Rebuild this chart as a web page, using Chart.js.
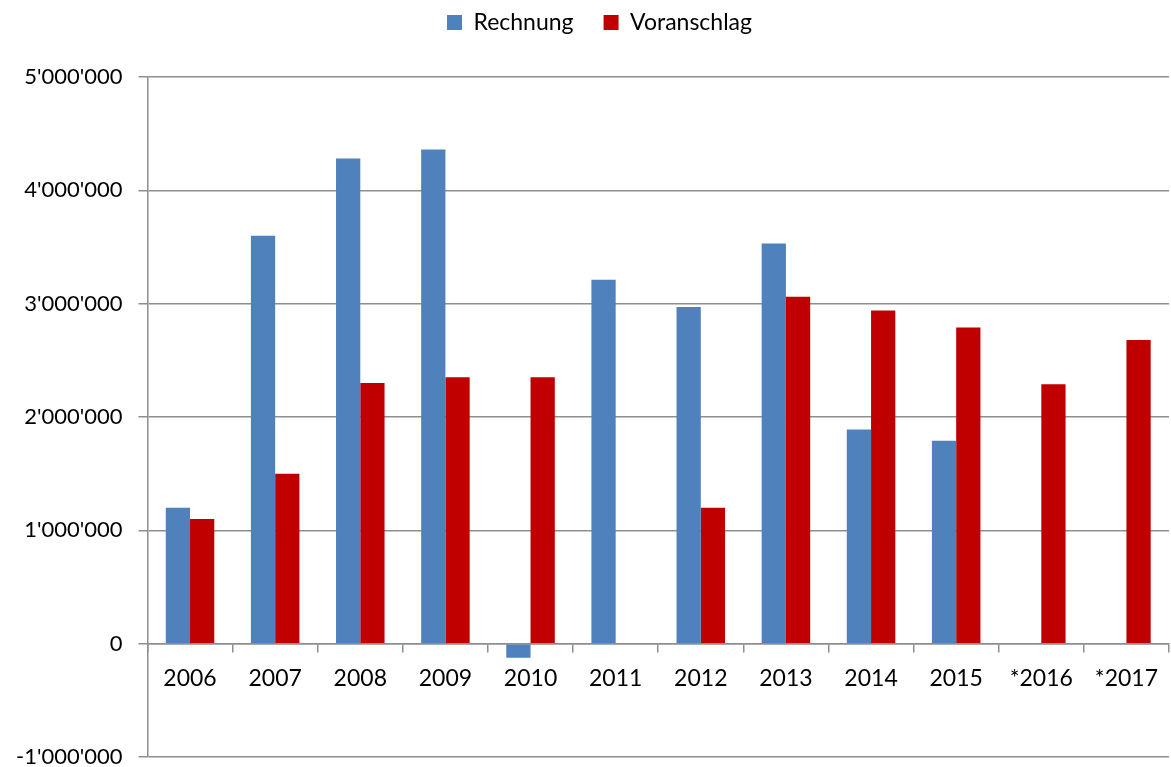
<!DOCTYPE html>
<html>
<head>
<meta charset="utf-8">
<script src="https://cdn.jsdelivr.net/npm/chart.js@4"></script>
<style>
  html, body { margin: 0; padding: 0; background: #fff; }
  #wrap { width: 1171px; height: 767px; }
</style>
</head>
<body>
<div id="wrap"><canvas id="barChart"></canvas></div>
<script>
"use strict"

// Jahre auf der x-Achse
const jahre = ["2006", "2007", "2008", "2009", "2010", "2011", "2012", "2013", "2014", "2015", "*2016", "*2017"];

// Werte
const rechnung = [1200000, 3600000, 4280000, 4360000, -125000, 3210000, 2970000, 3530000, 1890000, 1790000, null, null];
const voranschlag = [1100000, 1500000, 2300000, 2350000, 2350000, null, 1200000, 3060000, 2940000, 2790000, 2290000, 2680000];

const schrift = "Lato, 'Open Sans', sans-serif";
const grau = "#8e8e8e";

// 1000000 -> 1'000'000
function formatZahl(v) {
    const s = String(Math.abs(v)).replace(/\B(?=(\d{3})+(?!\d))/g, "'");
    return (v < 0 ? "-" : "") + s;
}

// mehr Platz unter der Legende, Legende etwas nach rechts
const legendePlatz = {
    id: "legendePlatz",
    beforeInit(chart) {
        const fitAlt = chart.legend.fit;
        chart.legend.fit = function () {
            fitAlt.bind(chart.legend)();
            this.height += 33;
        };
    },
    afterLayout(chart) {
        chart.legend.left += 14;
        chart.legend.right += 14;
    }
};

const chartEl = document.getElementById("barChart");

new Chart(chartEl, {
    type: "bar",
    data: {
        labels: jahre,
        datasets: [{
            label: "Rechnung",
            data: rechnung,
            backgroundColor: "#4f81bd",
            categoryPercentage: 0.57,
            barPercentage: 1
        }, {
            label: "Voranschlag",
            data: voranschlag,
            backgroundColor: "#c00000",
            categoryPercentage: 0.57,
            barPercentage: 1
        }]
    },
    plugins: [legendePlatz],
    options: {
        responsive: true,
        maintainAspectRatio: false,
        animation: false,
        layout: {
            padding: { top: -19, right: 0, bottom: 0, left: 0 }
        },
        plugins: {
            tooltip: { enabled: false },
            legend: {
                position: "top",
                labels: {
                    color: "#000",
                    font: { family: schrift, size: 23 },
                    boxWidth: 15,
                    boxHeight: 15,
                    padding: 30
                }
            }
        },
        scales: {
            x: {
                position: { y: 0 },
                afterFit: (axis) => { axis.height = 0; },
                grid: {
                    drawOnChartArea: false,
                    drawTicks: true,
                    tickLength: 8,
                    color: grau,
                    lineWidth: 1.5,
                    offset: true
                },
                border: { color: grau, width: 1.5 },
                ticks: {
                    color: "#000",
                    font: { family: schrift, size: 23 },
                    padding: 13,
                    maxRotation: 0,
                    autoSkip: false
                }
            },
            y: {
                min: -1000000,
                max: 5000000,
                afterFit: (axis) => {
                    axis.paddingTop = 12;
                    axis.paddingBottom = 10;
                },
                grid: {
                    color: grau,
                    lineWidth: 1.5,
                    tickLength: 9
                },
                border: { color: grau, width: 1.5 },
                ticks: {
                    stepSize: 1000000,
                    color: "#000",
                    font: { family: schrift, size: 22 },
                    padding: 16,
                    callback: (value) => formatZahl(value)
                }
            }
        }
    }
});
</script>
</body>
</html>
